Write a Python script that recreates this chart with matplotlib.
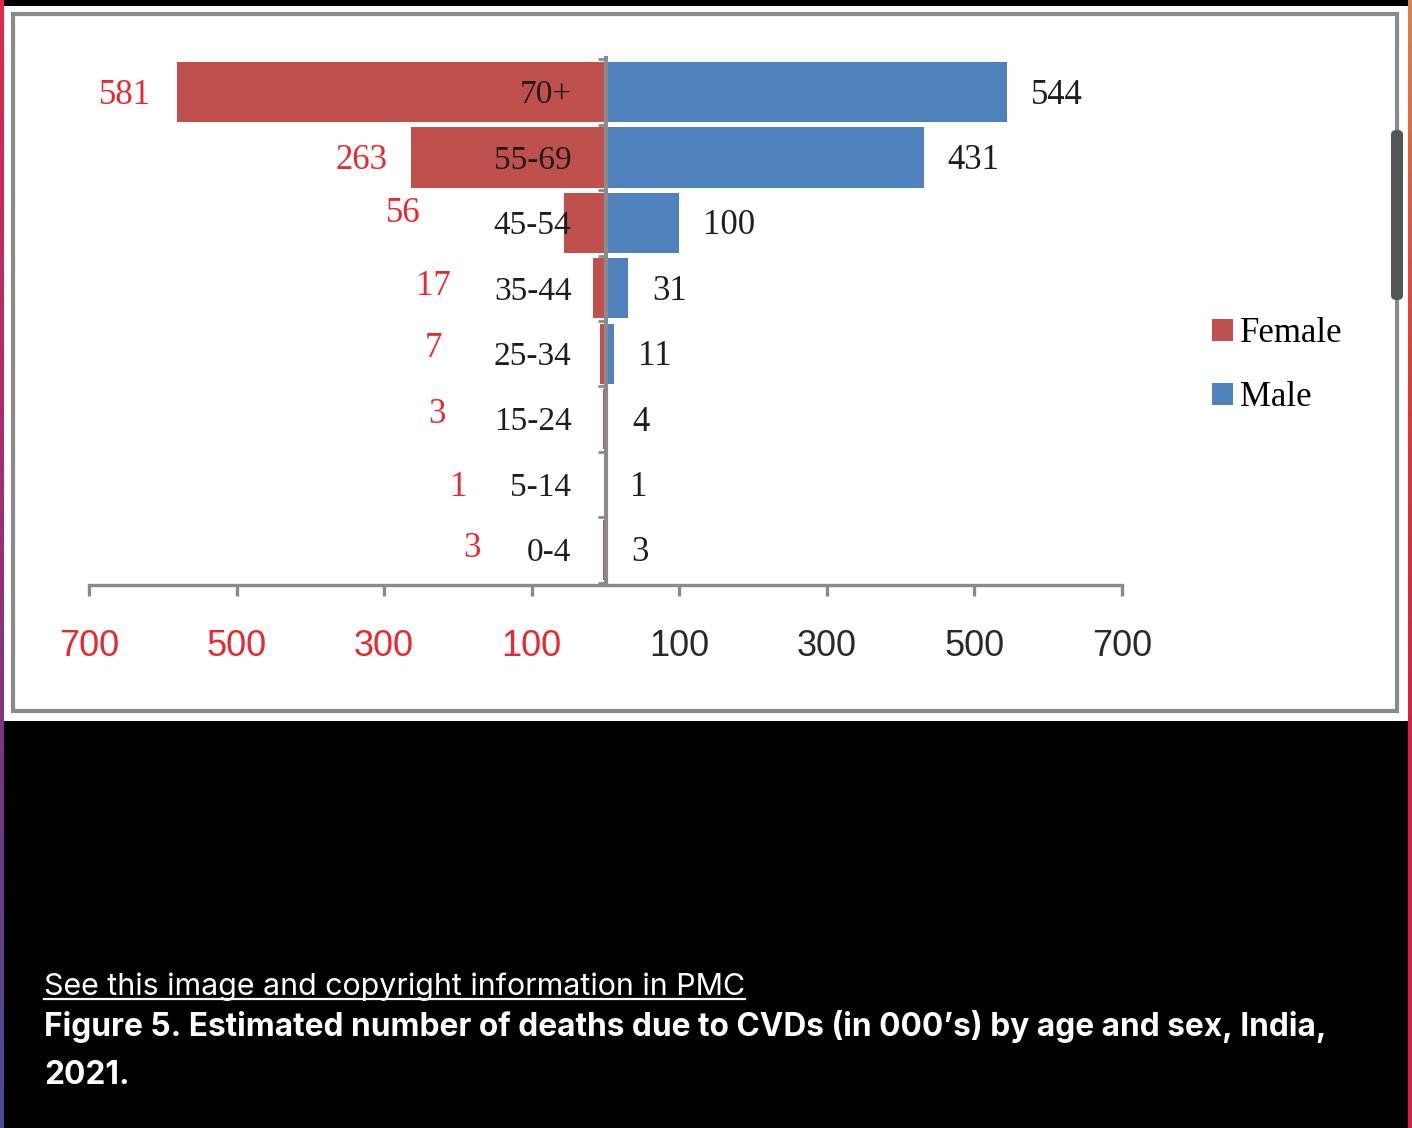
import numpy as np
import matplotlib
matplotlib.use("Agg")
import matplotlib.pyplot as plt
from matplotlib.patches import Rectangle, Patch, FancyBboxPatch
from matplotlib.lines import Line2D

# data (deaths in 000's)
ages = ["0-4", "5-14", "15-24", "25-34", "35-44", "45-54", "55-69", "70+"]
female = [3, 1, 3, 7, 17, 56, 263, 581]
male = [3, 1, 4, 11, 31, 100, 431, 544]
x_ticks = [-700, -500, -300, -100, 100, 300, 500, 700]

# where the female numbers sit, as pixel offsets from the bar end (as in the original)
f_dx = [-123, -137, -158, -158, -142, -144, -24, -26]
f_dy = [1, -3, 5, 5, 2, 9, -3, -3]

W, H = 1412, 1128
RED = "#C0504D"
BLUE = "#4F81BD"
LAB_RED = "#E8282E"
GRAY = "#8a8a8a"


def fx(px):
    return px / W


def fy(py):
    return 1 - py / H


fig = plt.figure(figsize=(W / 100, H / 100), dpi=100, facecolor="black")

# browser-ish side strips
strip_l = fig.add_axes([0, 0, fx(4), 1])
grad = np.linspace(0, 1, 256).reshape(-1, 1)
cmap_l = matplotlib.colors.LinearSegmentedColormap.from_list(
    "l", ["#e2284a", "#b02c6c", "#7a3584", "#4b4a92"])
strip_l.imshow(grad, aspect="auto", cmap=cmap_l)
strip_l.axis("off")
strip_r = fig.add_axes([fx(1408), 0, fx(4), 1])
cmap_r = matplotlib.colors.LinearSegmentedColormap.from_list(
    "r", ["#e0804a", "#e03a3a", "#e01848", "#e01848"])
strip_r.imshow(grad, aspect="auto", cmap=cmap_r)
strip_r.axis("off")

# white panel and grey frame
fig.patches.append(Rectangle((fx(4), fy(721)), fx(1404), 715 / H,
                             transform=fig.transFigure, facecolor="white",
                             edgecolor="none", zorder=-3))
fig.patches.append(Rectangle((fx(13), fy(711)), fx(1384), 697 / H,
                             transform=fig.transFigure, facecolor="none",
                             edgecolor=GRAY, lw=3, zorder=-2))

# main axes
ax = fig.add_axes([fx(89), fy(585), fx(1122 - 89), 527 / H])
ax.set_zorder(2)
ax.set_facecolor("none")
y = np.arange(len(ages))
ax.barh(y, [-v for v in female], height=0.92, color=RED, zorder=2)
ax.barh(y, male, height=0.92, color=BLUE, zorder=2)
ax.set_xlim(-700, 700)
ax.set_ylim(-0.535, 7.52)

for s in ["top", "right"]:
    ax.spines[s].set_visible(False)
ax.spines["bottom"].set_color(GRAY)
ax.spines["bottom"].set_linewidth(2.4)
ax.spines["left"].set_position(("data", 0))
ax.spines["left"].set_color(GRAY)
ax.spines["left"].set_linewidth(3.0)
ax.spines["left"].set_zorder(3)

ax.set_yticks([])
ax.set_yticks(np.arange(-0.5, len(ages), 1.0), minor=True)
ax.tick_params(axis="y", which="minor", length=6, width=2, color=GRAY,
               direction="out")
ax.set_xticks(x_ticks)
ax.set_xticklabels([str(abs(t)) for t in x_ticks], fontfamily="Liberation Sans",
                   fontsize=26)
ax.tick_params(axis="x", length=8, width=2.4, color=GRAY, pad=24)
for t, lab in zip(x_ticks, ax.get_xticklabels()):
    lab.set_color(LAB_RED if t < 0 else "#2a2a2a")

serif = "Liberation Serif"
for i, age in enumerate(ages):
    ax.annotate(age, xy=(0, i), xytext=(-34, -3), textcoords="offset pixels",
                ha="right", va="center", fontsize=24, family=serif,
                color="#1e1e1e", zorder=4)
    ax.annotate(str(male[i]), xy=(male[i], i), xytext=(24, -3),
                textcoords="offset pixels", ha="left", va="center",
                fontsize=25, family=serif, color="#1e1e1e")
    ax.annotate(str(female[i]), xy=(-female[i], i), xytext=(f_dx[i], f_dy[i]),
                textcoords="offset pixels", ha="right", va="center",
                fontsize=25, family=serif, color=LAB_RED)

handles = [Patch(facecolor=RED, edgecolor="none", label="Female"),
           Patch(facecolor=BLUE, edgecolor="none", label="Male")]
fig.legend(handles=handles, loc="upper left",
           bbox_to_anchor=(fx(1212), fy(317)), frameon=False,
           prop={"family": serif, "size": 25}, handlelength=0.6,
           handleheight=0.6, handletextpad=0.2, labelspacing=0.9,
           borderpad=0, borderaxespad=0)

# scrollbar thumb
fig.patches.append(FancyBboxPatch((fx(1391), fy(300)), fx(12), 170 / H,
                                  boxstyle="round,pad=0,rounding_size=0.004",
                                  transform=fig.transFigure,
                                  facecolor="#555555", edgecolor="none",
                                  zorder=5))

# caption
cap_font = ["Inter", "DejaVu Sans"]
link = fig.text(fx(44), fy(995), "See this image and copyright information in PMC",
                color="white", fontsize=21.9, family=cap_font, va="baseline")
fig.text(fx(44), fy(1036),
         "Figure 5. Estimated number of deaths due to CVDs (in 000\u2019s) by age and sex, India,",
         color="white", fontsize=22.8, family=cap_font, weight="bold",
         va="baseline")
fig.text(fx(44), fy(1084), "2021.", color="white", fontsize=22.8,
         family=cap_font, weight="bold", va="baseline")

fig.canvas.draw()
bb = link.get_window_extent()
uy = bb.y0 + 2
fig.add_artist(Line2D([bb.x0 / W, bb.x1 / W], [uy / H, uy / H],
                      transform=fig.transFigure, color="white", lw=1.6))

fig.savefig("out.png", dpi=100, facecolor="black")
